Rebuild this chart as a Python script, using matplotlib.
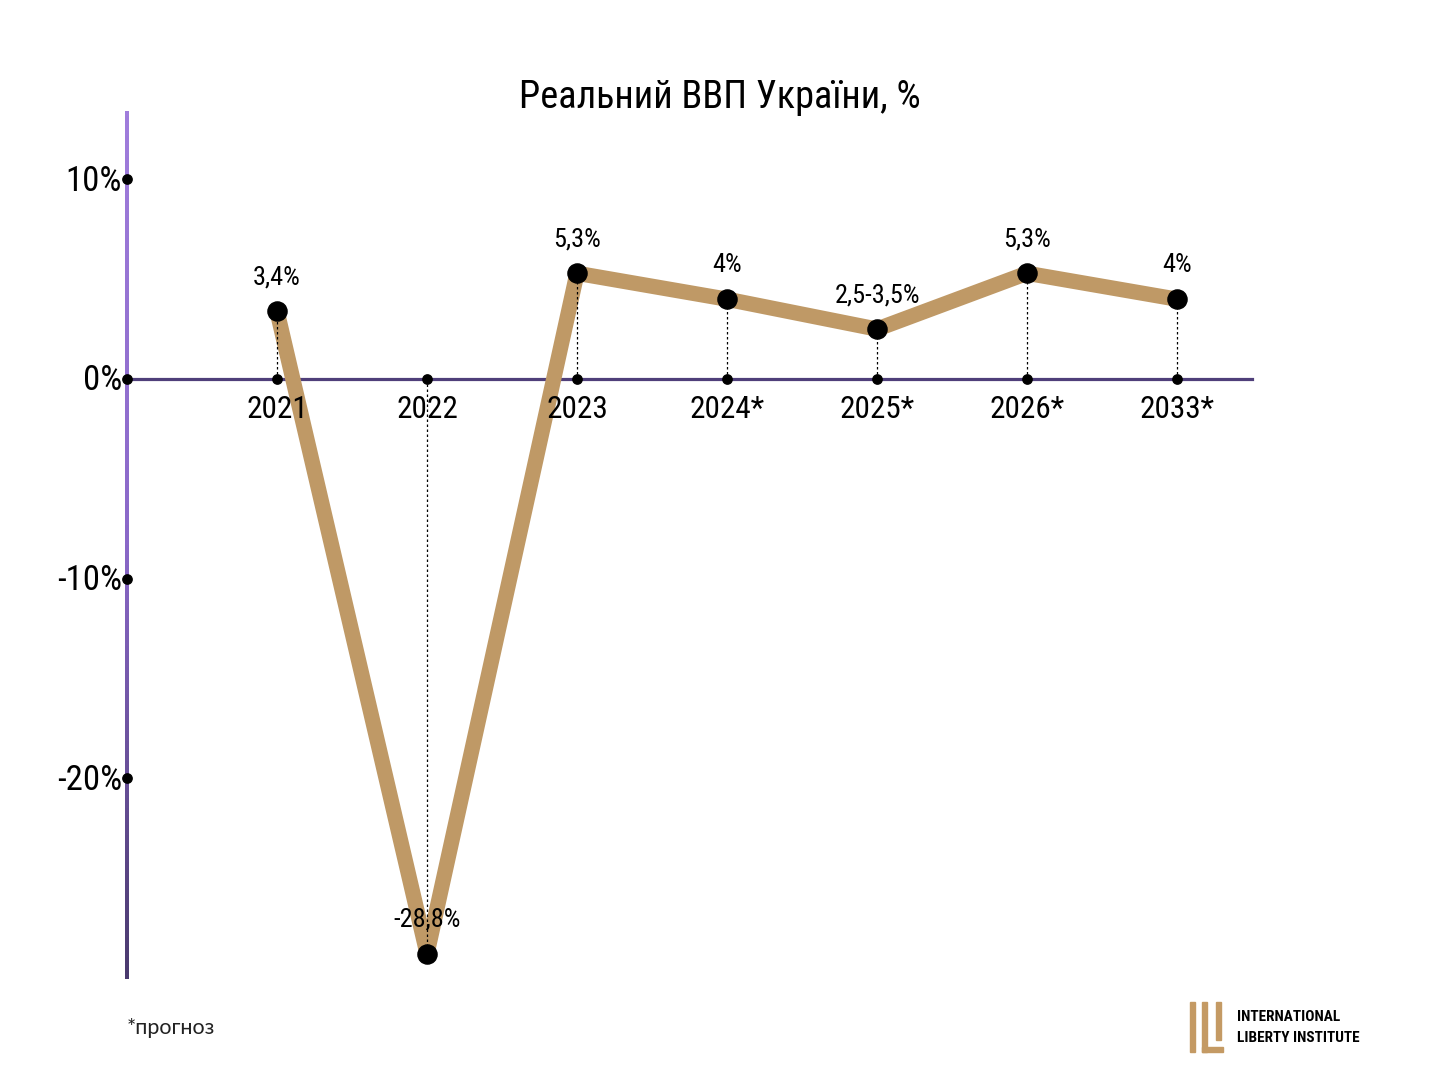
import numpy as np
import matplotlib
matplotlib.use("Agg")
import matplotlib.pyplot as plt
from matplotlib.colors import LinearSegmentedColormap
from matplotlib.patches import Rectangle

years = ["2021", "2022", "2023", "2024*", "2025*", "2026*", "2033*"]
gdp = [3.4, -28.8, 5.3, 4.0, 2.5, 5.3, 4.0]
value_labels = ["3,4%", "-28,8%", "5,3%", "4%", "2,5-3,5%", "5,3%", "4%"]
y_ticks = [10, 0, -10, -20]
y_tick_labels = ["10%", "0%", "-10%", "-20%"]

COND = ["Roboto Condensed", "Liberation Sans Narrow", "DejaVu Sans"]
LINE = "#bf9966"

fig = plt.figure(figsize=(14.4, 10.8), dpi=100)
ax = fig.add_axes([0, 0, 1, 1])
ax.axis("off")
# 150 px per category, ~19.95 px per percent point
ax.set_xlim(-277 / 150, (1440 - 277) / 150)
ax.set_ylim((379 - 1080) / 19.95, 379 / 19.95)

x = np.arange(len(years))

# vertical axis with purple gradient
cmap = LinearSegmentedColormap.from_list("ax", ["#a07ddc", "#8a68c8", "#4a3a6e"])
grad = np.linspace(0, 1, 256).reshape(-1, 1)
ax.imshow(grad, cmap=cmap, aspect="auto", extent=(-1 - 0.011, -1 + 0.011, -30.1, 13.4),
          origin="upper", zorder=2, interpolation="bilinear")
ax.set_xlim(-277 / 150, (1440 - 277) / 150)
ax.set_ylim((379 - 1080) / 19.95, 379 / 19.95)

# horizontal zero axis
ax.plot([-1, 6.5], [0, 0], color="#4f3f7a", lw=2.3, zorder=2)

# dotted guides from zero to each point
for xi, v in zip(x, gdp):
    ax.plot([xi, xi], [0, v], color="black", lw=0.9, ls=(0, (2, 2)), zorder=5)

ax.plot(x, gdp, color=LINE, lw=11, solid_joinstyle="round", solid_capstyle="butt", zorder=3)
ax.scatter(x, gdp, s=190, color="black", zorder=6)

# tick dots
ax.scatter(x, np.zeros(len(x)), s=45, color="black", zorder=6)
ax.scatter(np.full(len(y_ticks), -1), y_ticks, s=45, color="black", zorder=6)

for xi, v, lab in zip(x, gdp, value_labels):
    ax.annotate(lab, (xi, v), xytext=(0, 34), textcoords="offset pixels",
                ha="center", va="center", fontsize=19, family=COND, zorder=7)

for xi, lab in zip(x, years):
    ax.annotate(lab, (xi, 0), xytext=(0, -31), textcoords="offset pixels",
                ha="center", va="center", fontsize=22.5, family=COND, zorder=7)

for v, lab in zip(y_ticks, y_tick_labels):
    ax.annotate(lab, (-1, v), xytext=(-5, -2), textcoords="offset pixels",
                ha="right", va="center", fontsize=25, family=COND, zorder=7)

fig.text(0.5, 1 - 97 / 1080, "Реальний ВВП України, %", ha="center", va="center",
         fontsize=27.5, family=COND)

fig.text(127 / 1440, 1 - 1028 / 1080, "*прогноз", ha="left", va="center",
         fontsize=15.5, family=["Lato", "DejaVu Sans"], color="#222222")

# logo
gold = "#c49a64"
for (px, py, w, h) in [(1190, 1002, 5, 50), (1202, 1002, 5, 50), (1202, 1047, 21, 5), (1216, 1002, 5, 38)]:
    fig.patches.append(Rectangle((px / 1440, 1 - (py + h) / 1080), w / 1440, h / 1080,
                                 transform=fig.transFigure, color=gold))
fig.text(1237 / 1440, 1 - 1017 / 1080, "INTERNATIONAL", ha="left", va="center",
         fontsize=11, weight="bold", family=COND)
fig.text(1237 / 1440, 1 - 1038 / 1080, "LIBERTY INSTITUTE", ha="left", va="center",
         fontsize=11, weight="bold", family=COND)

fig.savefig("out.png", dpi=100, facecolor="white")
